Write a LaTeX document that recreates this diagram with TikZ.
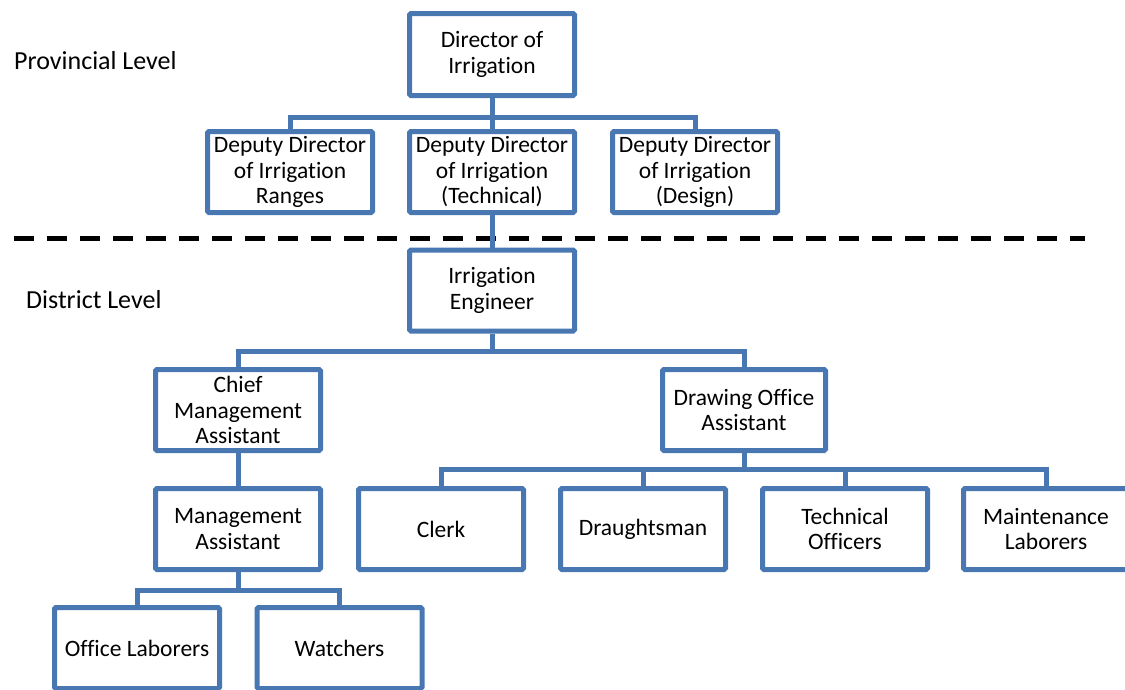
\documentclass[tikz,border=0pt]{standalone}
\usepackage{fontspec}
\setmainfont[Ligatures=NoCommon]{Carlito}
\definecolor{boxblue}{RGB}{72,119,177}
\begin{document}
\begin{tikzpicture}[x=1pt,y=-1pt,
  every node/.style={font=\fontsize{23.5}{25.5}\selectfont},
  lvl/.style={anchor=west, inner sep=0pt, font=\fontsize{26}{30}\selectfont},
  orgbox/.style={draw=boxblue, line width=5pt, fill=white, rounded corners=1.5pt,
    minimum width=165pt, minimum height=81pt, inner sep=0pt, align=center},
  link/.style={draw=boxblue, line width=5pt},
  levelsep/.style={draw=black, line width=5pt, dash pattern=on 20pt off 13pt}]
\useasboundingbox (0,0) rectangle (1125,689);

% level labels
\node[lvl] (prov) at (14,61) {Provincial Level};
\node[lvl] (dist) at (26,300) {District Level};

% separator between the two levels
\coordinate (sepL) at (14,238);
\coordinate (sepR) at (1085,238);
\draw[levelsep] (sepL) -- (sepR);

% provincial level
\node[orgbox, minimum height=82pt] (dir) at (492,54.5) {Director of\\Irrigation};
\node[orgbox] (dd1) at (290,172) {Deputy Director\\of Irrigation\\Ranges};
\node[orgbox] (dd2) at (492,172) {Deputy Director\\of Irrigation\\(Technical)};
\node[orgbox] (dd3) at (695,172) {Deputy Director\\of Irrigation\\(Design)};

% district level
\node[orgbox] (ie) at (492,290.5) {Irrigation\\Engineer};
\node[orgbox] (cma) at (238,410) {Chief\\Management\\Assistant};
\node[orgbox, minimum width=163pt] (doa) at (744,410) {Drawing Office\\Assistant};
\node[orgbox] (ma) at (238,529) {Management\\Assistant};
\node[orgbox] (clerk) at (441,529) {Clerk};
\node[orgbox] (draught) at (643,529) {Draughtsman};
\node[orgbox] (tech) at (845,529) {Technical\\Officers};
\node[orgbox] (maint) at (1046,529) {Maintenance\\Laborers};
\node[orgbox] (ol) at (137,648) {Office Laborers};
\node[orgbox] (watch) at (339.5,648) {Watchers};

% bus junctions
\coordinate (jdir) at (492,117);
\coordinate (jie) at (492,351);
\coordinate (jdoa) at (744,469);
\coordinate (jma) at (238,590);

% connectors
\draw[link] (dir.south) -- (jdir);
\draw[link] (jdir) -| (dd1.north);
\draw[link] (jdir) -| (dd3.north);
\draw[link] (jdir) -- (dd2.north);
\draw[link] (dd2.south) -- (ie.north);
\draw[link] (ie.south) -- (jie);
\draw[link] (jie) -| (cma.north);
\draw[link] (jie) -| (doa.north);
\draw[link] (cma.south) -- (ma.north);
\draw[link] (doa.south) -- (jdoa);
\draw[link] (jdoa) -| (clerk.north);
\draw[link] (jdoa) -| (draught.north);
\draw[link] (jdoa) -| (tech.north);
\draw[link] (jdoa) -| (maint.north);
\draw[link] (ma.south) -- (jma);
\draw[link] (jma) -| (ol.north);
\draw[link] (jma) -| (watch.north);
\end{tikzpicture}
\end{document}
